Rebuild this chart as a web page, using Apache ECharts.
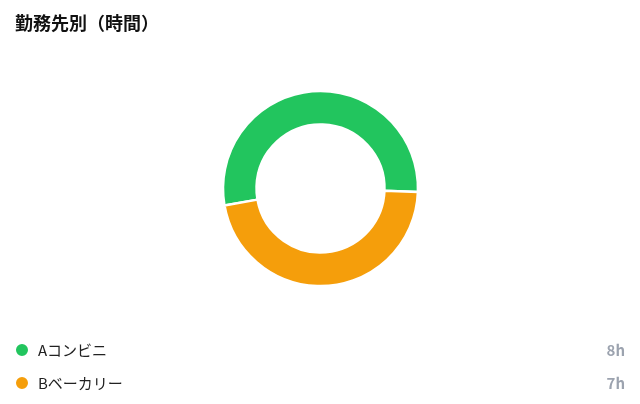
<!DOCTYPE html>
<html><head><meta charset="utf-8">
<script src="https://cdn.jsdelivr.net/npm/echarts@6/dist/echarts.min.js"></script>
<style>html,body{margin:0;padding:0;background:#fff}#c{width:640px;height:404px}</style>
</head><body><div id="c"></div>
<script>
const titleText = '勤務先別（時間）';
const categories = ['Aコンビニ', 'Bベーカリー'];
const hours = [8, 7];
const colors = ['#22c55e', '#f59e0b'];
const unit = 'h';

const chart = echarts.init(document.getElementById('c'));
const font = '"Noto Sans CJK JP", "Noto Sans", sans-serif';
chart.setOption({
  animation: false,
  textStyle: { fontFamily: font },
  title: { text: titleText, left: 10, top: 9, textStyle: { fontSize: 18, fontWeight: 'bold', color: '#111', fontFamily: font } },
  legend: {
    orient: 'vertical', left: 14, top: 342, itemGap: 17, itemWidth: 14, itemHeight: 14, icon: 'circle',
    padding: 0,
    formatter: function (name) {
      const i = categories.indexOf(name);
      return '{n|' + name + '}{v|' + hours[i] + unit + '}';
    },
    textStyle: {
      padding: [0, 0, 0, 4],
      rich: {
        n: { width: 547, fontSize: 15, color: '#222', fontFamily: font },
        v: { width: 40, align: 'right', fontSize: 15, fontWeight: 'bold', color: '#9ca3af', fontFamily: font }
      }
    }
  },
  series: [{
    type: 'pie', center: [320.5, 188.5], radius: [64, 97.5], startAngle: 190,
    label: { show: false }, labelLine: { show: false },
    itemStyle: { borderColor: '#fff', borderWidth: 2.5 },
    data: categories.map((c, i) => ({ name: c, value: hours[i], itemStyle: { color: colors[i] } }))
  }]
});
</script></body></html>
